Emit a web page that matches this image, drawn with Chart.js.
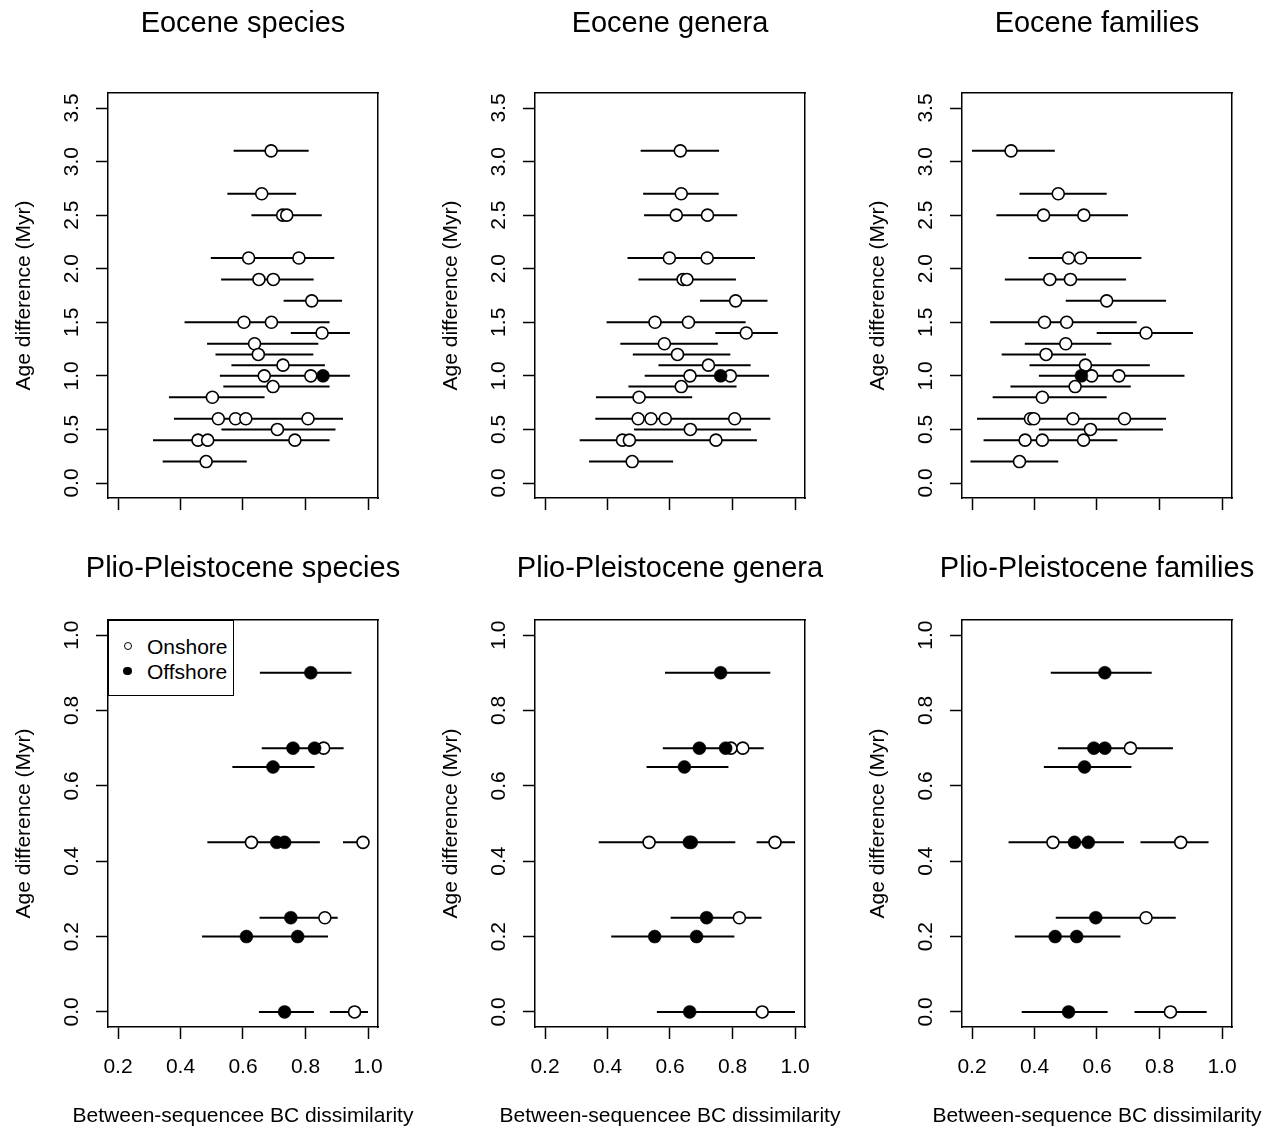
<!DOCTYPE html>
<html>
<head>
<meta charset="utf-8">
<script src="https://cdn.jsdelivr.net/npm/chart.js@4.4.1/dist/chart.umd.min.js"></script>
<style>
html, body { margin: 0; padding: 0; background: #fff; overflow: hidden; width: 1271px; height: 1131px; }
.wrap { position: absolute; }
#legend { position: absolute; left: 108px; top: 620px; width: 126px; height: 76px; box-sizing: border-box;
  border: 1.5px solid #000; background: #fff; z-index: 5;
  font-family: 'Liberation Sans', Arial, Helvetica, sans-serif; font-size: 21px; color: #000; }
#legend .txt { position: absolute; left: 38px; line-height: 24px; white-space: nowrap; }
#legend .sym { position: absolute; box-sizing: border-box; border-radius: 50%; }
</style>
</head>
<body>
<div id="legend">
  <div class="sym" style="left:14.5px;top:21.2px;width:8px;height:8px;border:1.5px solid #000;background:#fff;"></div>
  <div class="txt" style="top:13.5px;">Onshore</div>
  <div class="sym" style="left:14.2px;top:45.9px;width:8.6px;height:8.6px;background:#000;"></div>
  <div class="txt" style="top:38.5px;">Offshore</div>
</div>
<script>
// ---------- DATA ----------
// Eocene species
const eoSpAge = [3.1, 2.7, 2.5, 2.5, 2.1, 2.1, 1.9, 1.9, 1.7, 1.5, 1.5, 1.4, 1.3, 1.2, 1.1, 1.0, 1.0, 1.0, 0.9, 0.8, 0.6, 0.6, 0.6, 0.6, 0.5, 0.4, 0.4, 0.4, 0.2];
const eoSpBC  = [0.69, 0.66, 0.727, 0.74, 0.618, 0.779, 0.651, 0.697, 0.82, 0.603, 0.691, 0.853, 0.637, 0.649, 0.728, 0.668, 0.817, 0.856, 0.696, 0.502, 0.521, 0.576, 0.609, 0.808, 0.71, 0.456, 0.487, 0.766, 0.482];
const eoSpLo  = [0.57, 0.55, 0.627, 0.64, 0.497, 0.66, 0.53, 0.57, 0.73, 0.413, 0.50, 0.753, 0.485, 0.512, 0.563, 0.526, 0.69, 0.77, 0.537, 0.363, 0.379, 0.43, 0.46, 0.68, 0.531, 0.312, 0.34, 0.62, 0.343];
const eoSpHi  = [0.81, 0.77, 0.84, 0.852, 0.75, 0.892, 0.78, 0.826, 0.917, 0.79, 0.877, 0.942, 0.841, 0.825, 0.862, 0.81, 0.94, 0.942, 0.877, 0.669, 0.68, 0.73, 0.76, 0.92, 0.896, 0.60, 0.64, 0.877, 0.612];
const eoSpOff = [0, 0, 0, 0, 0, 0, 0, 0, 0, 0, 0, 0, 0, 0, 0, 0, 0, 1, 0, 0, 0, 0, 0, 0, 0, 0, 0, 0, 0];

// Eocene genera
const eoGeAge = [3.1, 2.7, 2.5, 2.5, 2.1, 2.1, 1.9, 1.9, 1.7, 1.5, 1.5, 1.4, 1.3, 1.2, 1.1, 1.0, 1.0, 1.0, 0.9, 0.8, 0.6, 0.6, 0.6, 0.6, 0.5, 0.4, 0.4, 0.4, 0.2];
const eoGeBC  = [0.633, 0.636, 0.62, 0.72, 0.598, 0.719, 0.642, 0.654, 0.81, 0.552, 0.659, 0.844, 0.582, 0.624, 0.723, 0.664, 0.762, 0.793, 0.636, 0.501, 0.498, 0.539, 0.585, 0.807, 0.665, 0.448, 0.47, 0.747, 0.479];
const eoGeLo  = [0.506, 0.514, 0.517, 0.61, 0.464, 0.58, 0.499, 0.51, 0.696, 0.397, 0.50, 0.745, 0.441, 0.481, 0.563, 0.519, 0.62, 0.66, 0.467, 0.363, 0.361, 0.40, 0.43, 0.68, 0.485, 0.311, 0.33, 0.61, 0.341];
const eoGeHi  = [0.757, 0.756, 0.73, 0.815, 0.73, 0.872, 0.78, 0.811, 0.912, 0.70, 0.842, 0.945, 0.753, 0.793, 0.858, 0.80, 0.90, 0.917, 0.813, 0.671, 0.65, 0.69, 0.74, 0.921, 0.859, 0.60, 0.62, 0.878, 0.61];
const eoGeOff = [0, 0, 0, 0, 0, 0, 0, 0, 0, 0, 0, 0, 0, 0, 0, 0, 1, 0, 0, 0, 0, 0, 0, 0, 0, 0, 0, 0, 0];

// Eocene families
const eoFaAge = [3.1, 2.7, 2.5, 2.5, 2.1, 2.1, 1.9, 1.9, 1.7, 1.5, 1.5, 1.4, 1.3, 1.2, 1.1, 1.0, 1.0, 1.0, 0.9, 0.8, 0.6, 0.6, 0.6, 0.6, 0.5, 0.4, 0.4, 0.4, 0.2];
const eoFaBC  = [0.325, 0.476, 0.429, 0.558, 0.509, 0.548, 0.449, 0.515, 0.631, 0.432, 0.503, 0.757, 0.50, 0.437, 0.563, 0.55, 0.583, 0.67, 0.53, 0.425, 0.387, 0.398, 0.523, 0.688, 0.579, 0.37, 0.425, 0.557, 0.352];
const eoFaLo  = [0.20, 0.352, 0.278, 0.42, 0.381, 0.40, 0.305, 0.37, 0.50, 0.258, 0.33, 0.599, 0.369, 0.295, 0.384, 0.414, 0.43, 0.50, 0.323, 0.266, 0.216, 0.23, 0.36, 0.55, 0.414, 0.237, 0.28, 0.42, 0.195];
const eoFaHi  = [0.465, 0.631, 0.58, 0.699, 0.66, 0.742, 0.60, 0.693, 0.821, 0.60, 0.727, 0.907, 0.646, 0.565, 0.769, 0.70, 0.75, 0.88, 0.708, 0.631, 0.56, 0.58, 0.70, 0.821, 0.811, 0.50, 0.56, 0.665, 0.476];
const eoFaOff = [0, 0, 0, 0, 0, 0, 0, 0, 0, 0, 0, 0, 0, 0, 0, 1, 0, 0, 0, 0, 0, 0, 0, 0, 0, 0, 0, 0, 0];

// Plio-Pleistocene species
const plSpAge = [0.9, 0.7, 0.7, 0.7, 0.65, 0.45, 0.45, 0.45, 0.45, 0.25, 0.25, 0.2, 0.2, 0.0, 0.0];
const plSpBC  = [0.817, 0.76, 0.829, 0.858, 0.696, 0.627, 0.708, 0.733, 0.984, 0.753, 0.862, 0.611, 0.775, 0.733, 0.957];
const plSpLo  = [0.654, 0.66, 0.72, 0.75, 0.566, 0.486, 0.57, 0.60, 0.92, 0.653, 0.78, 0.469, 0.64, 0.651, 0.878];
const plSpHi  = [0.947, 0.87, 0.922, 0.922, 0.829, 0.76, 0.83, 0.846, 1.0, 0.86, 0.903, 0.75, 0.872, 0.827, 1.0];
const plSpOff = [1, 1, 1, 0, 1, 0, 1, 1, 0, 1, 0, 1, 1, 1, 0];

// Plio-Pleistocene genera
const plGeAge = [0.9, 0.7, 0.7, 0.7, 0.7, 0.65, 0.45, 0.45, 0.45, 0.45, 0.25, 0.25, 0.2, 0.2, 0.0, 0.0];
const plGeBC  = [0.762, 0.694, 0.778, 0.795, 0.833, 0.646, 0.533, 0.662, 0.668, 0.936, 0.717, 0.822, 0.551, 0.685, 0.663, 0.895];
const plGeLo  = [0.584, 0.577, 0.65, 0.68, 0.73, 0.525, 0.372, 0.50, 0.52, 0.877, 0.602, 0.72, 0.412, 0.54, 0.558, 0.77];
const plGeHi  = [0.921, 0.82, 0.88, 0.90, 0.90, 0.787, 0.70, 0.80, 0.809, 1.0, 0.84, 0.893, 0.70, 0.806, 0.78, 1.0];
const plGeOff = [1, 1, 1, 0, 0, 1, 0, 1, 1, 0, 1, 0, 1, 1, 1, 0];

// Plio-Pleistocene families
const plFaAge = [0.9, 0.7, 0.7, 0.7, 0.65, 0.45, 0.45, 0.45, 0.45, 0.25, 0.25, 0.2, 0.2, 0.0, 0.0];
const plFaBC  = [0.625, 0.59, 0.625, 0.707, 0.56, 0.459, 0.528, 0.572, 0.868, 0.596, 0.757, 0.466, 0.535, 0.509, 0.835];
const plFaLo  = [0.452, 0.475, 0.49, 0.56, 0.43, 0.317, 0.37, 0.42, 0.739, 0.468, 0.63, 0.337, 0.40, 0.359, 0.72];
const plFaHi  = [0.775, 0.73, 0.76, 0.843, 0.71, 0.60, 0.66, 0.686, 0.957, 0.73, 0.852, 0.60, 0.675, 0.634, 0.951];
const plFaOff = [1, 1, 1, 0, 1, 0, 1, 1, 0, 1, 0, 1, 1, 1, 0];

// Axis settings / labels
const xTickStep = 0.2;
const eoceneYStep = 0.5;
const plioYStep = 0.2;
const yTitle = 'Age difference (Myr)';
const xTitleA = 'Between-sequencee BC dissimilarity';
const xTitleB = 'Between-sequence BC dissimilarity';

// ---------- RENDERING ----------
const FONT = "'Liberation Sans', Arial, Helvetica, sans-serif";
Chart.defaults.font.family = FONT;
Chart.defaults.color = '#000';

const CW = 486;           // canvas width (plot box centred)
const AXW = 108;          // space left / right of box
const TITLE_PAD = 6.6;
const TITLE_H = TITLE_PAD + 29 * 1.2;
const SUB_PAD_B = 2;
const SUB_H = 21 * 1.2 + SUB_PAD_B;

function buildSets(age, bc, lo, hi, off) {
  const offPts = [], onPts = [], bars = [];
  for (let i = 0; i < age.length; i++) {
    const p = { x: bc[i], y: age[i] };
    if (off[i]) offPts.push(p); else onPts.push(p);
    bars.push({ x: lo[i], y: age[i] }, { x: hi[i], y: age[i] }, { x: null, y: null });
  }
  return [
    { label: 'Offshore', data: offPts, pointRadius: 6.5, pointBackgroundColor: '#000',
      pointBorderColor: '#000', pointBorderWidth: 0.5, showLine: false },
    { label: 'Onshore', data: onPts, pointRadius: 6, pointBackgroundColor: '#fff',
      pointBorderColor: '#000', pointBorderWidth: 1.6, showLine: false },
    { label: 'CI', data: bars, showLine: true, borderColor: '#000', borderWidth: 2,
      pointRadius: 0, spanGaps: false, tension: 0 }
  ];
}

function panel(p) {
  const wrap = document.createElement('div');
  wrap.className = 'wrap';
  wrap.style.left = (p.boxLeft - AXW) + 'px';
  wrap.style.top = p.top + 'px';
  wrap.style.width = CW + 'px';
  wrap.style.height = p.h + 'px';
  const cv = document.createElement('canvas');
  cv.width = CW; cv.height = p.h;
  cv.style.width = CW + 'px'; cv.style.height = p.h + 'px';
  wrap.appendChild(cv);
  document.body.insertBefore(wrap, document.getElementById('legend'));

  const gridOpts = { display: true, drawOnChartArea: false, drawTicks: true, tickLength: 12,
                     tickWidth: 1.5, tickColor: '#000' };
  const borderOpts = { display: true, color: '#000', width: 1.5 };
  const hasXTitle = !!p.xTitle;

  new Chart(cv, {
    type: 'scatter',
    data: { datasets: buildSets(p.age, p.bc, p.lo, p.hi, p.off) },
    options: {
      responsive: false, animation: false, events: [], devicePixelRatio: 1,
      layout: { padding: 0 },
      plugins: {
        legend: { display: false }, tooltip: { enabled: false },
        title: { display: true, text: p.title, color: '#000',
                 font: { size: 29, weight: 'normal', family: FONT },
                 padding: { top: TITLE_PAD, bottom: 0 } },
        subtitle: { display: hasXTitle, position: 'bottom', text: p.xTitle || '', color: '#000',
                    font: { size: 21, weight: 'normal', family: FONT },
                    padding: { top: 0, bottom: SUB_PAD_B } }
      },
      scales: {
        x: {
          type: 'linear', position: 'bottom', min: 0.168, max: 1.032,
          afterFit: s => { s.height = p.h - p.areaBottom - (hasXTitle ? SUB_H : 0); },
          ticks: { stepSize: xTickStep, includeBounds: false, autoSkip: false, maxRotation: 0,
                   padding: 16, font: { size: 21 }, color: '#000',
                   callback: v => p.xLabels ? v.toFixed(1) : '' },
          grid: gridOpts, border: borderOpts
        },
        y: {
          type: 'linear', position: 'left', min: p.yMin, max: p.yMax,
          afterFit: s => { s.width = AXW; },
          ticks: { stepSize: p.yStep, includeBounds: false, autoSkip: false,
                   minRotation: 90, maxRotation: 90, crossAlign: 'center',
                   padding: 9, font: { size: 21 }, color: '#000',
                   callback: v => v.toFixed(1) },
          grid: gridOpts, border: borderOpts,
          title: { display: true, text: yTitle, color: '#000', font: { size: 21 },
                   padding: { top: 12, bottom: 0 } }
        },
        x2: {
          type: 'linear', position: 'top', min: 0, max: 1,
          afterFit: s => { s.height = p.areaTop - TITLE_H; },
          ticks: { display: false }, grid: { display: false }, border: borderOpts
        },
        y2: {
          type: 'linear', position: 'right', min: 0, max: 1,
          afterFit: s => { s.width = AXW; },
          ticks: { display: false }, grid: { display: false }, border: borderOpts
        }
      }
    }
  });
}

const topRow = { top: 0, h: 545, areaTop: 93, areaBottom: 498, yMin: -0.14, yMax: 3.64, yStep: eoceneYStep, xLabels: false };
const botRow = { top: 545, h: 586, areaTop: 75, areaBottom: 482, yMin: -0.04, yMax: 1.04, yStep: plioYStep, xLabels: true };
const boxLefts = [108, 535, 962];

panel(Object.assign({}, topRow, { boxLeft: boxLefts[0], title: 'Eocene species',
  age: eoSpAge, bc: eoSpBC, lo: eoSpLo, hi: eoSpHi, off: eoSpOff }));
panel(Object.assign({}, topRow, { boxLeft: boxLefts[1], title: 'Eocene genera',
  age: eoGeAge, bc: eoGeBC, lo: eoGeLo, hi: eoGeHi, off: eoGeOff }));
panel(Object.assign({}, topRow, { boxLeft: boxLefts[2], title: 'Eocene families',
  age: eoFaAge, bc: eoFaBC, lo: eoFaLo, hi: eoFaHi, off: eoFaOff }));
panel(Object.assign({}, botRow, { boxLeft: boxLefts[0], title: 'Plio-Pleistocene species', xTitle: xTitleA,
  age: plSpAge, bc: plSpBC, lo: plSpLo, hi: plSpHi, off: plSpOff }));
panel(Object.assign({}, botRow, { boxLeft: boxLefts[1], title: 'Plio-Pleistocene genera', xTitle: xTitleA,
  age: plGeAge, bc: plGeBC, lo: plGeLo, hi: plGeHi, off: plGeOff }));
panel(Object.assign({}, botRow, { boxLeft: boxLefts[2], title: 'Plio-Pleistocene families', xTitle: xTitleB,
  age: plFaAge, bc: plFaBC, lo: plFaLo, hi: plFaHi, off: plFaOff }));
</script>
</body>
</html>
